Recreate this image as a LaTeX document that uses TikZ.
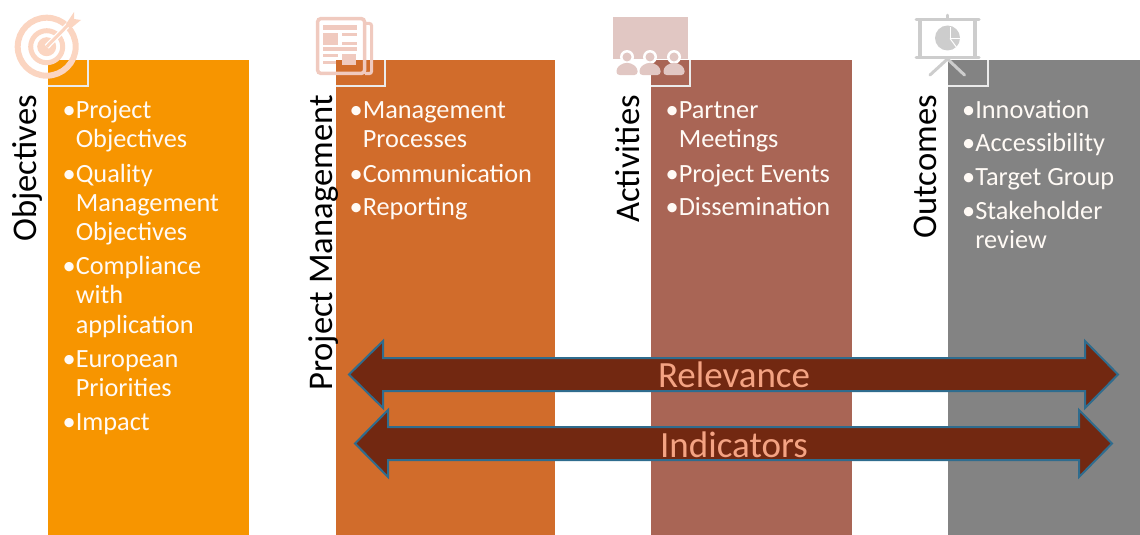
\documentclass[tikz,border=0pt]{standalone}
\usepackage{fontspec}
\setmainfont{Carlito}
\usepackage{tikz}
\usetikzlibrary{calc}
\definecolor{objcol}{HTML}{F79500}
\definecolor{mgmtcol}{HTML}{D16C2B}
\definecolor{actcol}{HTML}{A96555}
\definecolor{outcol}{HTML}{838383}
\definecolor{arrowfill}{HTML}{722811}
\definecolor{arrowline}{HTML}{2F6C8E}
\definecolor{arrowtext}{HTML}{F4A383}
\definecolor{targeticon}{HTML}{FBD5C1}
\definecolor{papericon}{HTML}{F0CABF}
\definecolor{peopleicon}{HTML}{E1C7C3}
\definecolor{screenicon}{HTML}{CDCDCD}
\newcommand{\blank}{\phantom{•}}
\newcommand{\bul}{\vphantom{Áj}•}
\tikzset{
	notch/.style={draw=white!92!black,line width=1.5pt},
	heading/.style={rotate=90,anchor=base east,inner sep=0pt,font=\fontsize{34.6}{34.6}\selectfont},
	itemlist/.style={anchor=north west,align=left,inner sep=0pt,text=white!96!orange,font=\fontsize{26.3}{29.2}\selectfont},
	bigarrow/.style={fill=arrowfill,draw=arrowline,line width=2pt,miter limit=10},
	arrowlabel/.style={inner sep=0pt,text=arrowtext,font=\fontsize{37}{37}\selectfont},
}
\begin{document}
\begin{tikzpicture}[x=1pt,y=-1pt]
	\useasboundingbox (0,0) rectangle (1140,535);

	\fill[fill=objcol] (48,60) rectangle (249,535);
	\fill[fill=mgmtcol] (336,60) rectangle (555,535);
	\fill[fill=actcol] (651,60) rectangle (852,535);
	\fill[fill=outcol] (948,60) rectangle (1140,535);

	\draw[notch] (88,60) -- (88,86) -- (48,86);
	\draw[notch] (385,60) -- (385,86) -- (336,86);
	\draw[notch] (690,60) -- (690,86) -- (651,86);
	\draw[notch] (988,60) -- (988,86) -- (948,86);

	\node[heading] (objhead) at (36.5,95) {Objectives};
	\node[heading] (mgmthead) at (332.5,95) {Project Management};
	\node[heading] (acthead) at (639,95) {Activities};
	\node[heading] (outhead) at (936,95) {Outcomes};

	\node[itemlist] (objlist) at (62.5,96) {\bul Project\\\blank Objectives\\[5.5pt]\bul Quality\\\blank Management\\\blank Objectives\\[5pt]\bul Compliance\\\blank with\\\blank application\\[5pt]\bul European\\\blank Priorities\\[5pt]\bul Impact};
	\node[itemlist] (mgmtlist) at (349.5,96) {\bul Management\\\blank Processes\\[5.5pt]\bul Communication\\[4.5pt]\bul Reporting};
	\node[itemlist] (actlist) at (665.5,96) {\bul Partner\\\blank Meetings\\[5.5pt]\bul Project Events\\[4.5pt]\bul Dissemination};
	\node[itemlist] (outlist) at (962,96) {\bul Innovation\\[4.5pt]\bul Accessibility\\[4.5pt]\bul Target Group\\[5pt]\bul Stakeholder\\\blank review};

	\filldraw[bigarrow] (349,374.5) -- (383,341) -- (383,358) -- (1085,358) -- (1085,341) -- (1118,374.5) -- (1085,408) -- (1085,391) -- (383,391) -- (383,408) -- cycle;
	\filldraw[bigarrow] (355,443.5) -- (388,410) -- (388,427) -- (1079,427) -- (1079,410) -- (1112,443.5) -- (1079,477) -- (1079,460) -- (388,460) -- (388,477) -- cycle;
	\node[arrowlabel] (relevance) at (734,375) {Relevance};
	\node[arrowlabel] (indicators) at (734,445) {Indicators};

	% target
	\draw[targeticon,line width=6pt] (46.7,46.7) circle (29);
	\draw[targeticon,line width=5pt] (46.7,46.7) circle (16);
	\fill[targeticon] (46.7,46.7) circle (9.5);
	\draw[white,line width=5.5pt] (46.7,46.7) -- (72,21);
	\draw[targeticon,line width=3pt] (46.7,46.7) -- (72,21);
	\fill[targeticon] (66,24) -- (74,12) -- (74,19) -- (81,20) -- (70,29) -- cycle;

	% newspaper
	\draw[papericon,line width=3pt,rounded corners=2pt] (365,23.5) -- (371.5,23.5) -- (371.5,73.5) -- (365,73.5);
	\draw[papericon,line width=3.5pt,rounded corners=3pt] (317.7,18.7) rectangle (364.5,73.3);
	\fill[papericon] (323,25) rectangle (357,30);
	\fill[papericon] (323,33) rectangle (338,45);
	\fill[papericon] (342,33) rectangle (357,36);
	\fill[papericon] (342,42) rectangle (357,45);
	\fill[papericon] (323,47.5) rectangle (357,51);
	\fill[papericon] (323,54) rectangle (338,57);
	\fill[papericon] (323,61) rectangle (336,64);
	\fill[papericon] (342,54) rectangle (356,65);

	% people
	\fill[peopleicon] (613,17) rectangle (688,59);
	\foreach \px in {627,650,674}{
		\fill[white] (\px,57) circle (7);
		\fill[peopleicon] (\px,57) circle (4.5);
		\fill[peopleicon,rounded corners=3pt] (\px-10.5,75) -- (\px-10.5,68) -- (\px-4,63) -- (\px+4,63) -- (\px+10.5,68) -- (\px+10.5,75) -- cycle;
	}

	% screen
	\draw[screenicon,line width=2.5pt,line cap=round] (947.5,15) -- (947.5,19);
	\draw[screenicon,line width=3pt,line cap=round] (916,19.5) -- (979,19.5);
	\draw[screenicon,line width=3pt,line cap=round] (916,57.5) -- (979,57.5);
	\draw[screenicon,line width=4pt] (920,20) -- (920,57);
	\draw[screenicon,line width=4pt] (975,20) -- (975,57);
	\draw[screenicon,line width=3pt,line cap=round] (947.5,59) -- (930,75);
	\draw[screenicon,line width=3pt,line cap=round] (947.5,59) -- (964.5,75);
	\fill[screenicon] (947.5,38) circle (12.5);
	\draw[white,line width=1pt] (950,27) -- (950,38.5) -- (960,38.5);
	\draw[white,line width=1pt] (950,38.5) -- (957,48);
\end{tikzpicture}
\end{document}
